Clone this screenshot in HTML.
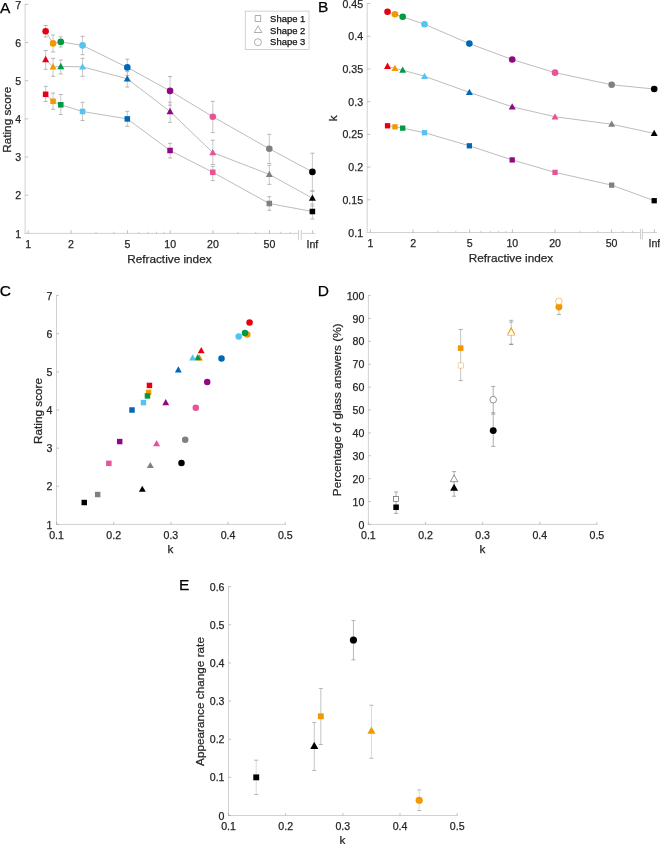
<!DOCTYPE html>
<html><head><meta charset="utf-8"><title>Figure</title>
<style>
html,body{margin:0;padding:0;background:#fff;}
body{width:660px;height:844px;overflow:hidden;font-family:"Liberation Sans",sans-serif;}
svg{display:block;font-family:"Liberation Sans",sans-serif;will-change:transform;transform:translateZ(0);}
</style></head><body>
<svg width="660" height="844" viewBox="0 0 660 844">
<rect x="0" y="0" width="660" height="844" fill="#ffffff"/>
<line x1="25.1" y1="3.9" x2="25.1" y2="233.9" stroke="#d2d2d2" stroke-width="1.0" />
<line x1="25.1" y1="233.4" x2="28.3" y2="233.4" stroke="#9a9a9a" stroke-width="0.6" />
<text x="21.2" y="237.5" font-size="10.6" text-anchor="end" fill="#262626" stroke="#262626" stroke-width="0.25">1</text>
<line x1="25.1" y1="195.23" x2="28.3" y2="195.23" stroke="#9a9a9a" stroke-width="0.6" />
<text x="21.2" y="199.33" font-size="10.6" text-anchor="end" fill="#262626" stroke="#262626" stroke-width="0.25">2</text>
<line x1="25.1" y1="157.07" x2="28.3" y2="157.07" stroke="#9a9a9a" stroke-width="0.6" />
<text x="21.2" y="161.17" font-size="10.6" text-anchor="end" fill="#262626" stroke="#262626" stroke-width="0.25">3</text>
<line x1="25.1" y1="118.9" x2="28.3" y2="118.9" stroke="#9a9a9a" stroke-width="0.6" />
<text x="21.2" y="123" font-size="10.6" text-anchor="end" fill="#262626" stroke="#262626" stroke-width="0.25">4</text>
<line x1="25.1" y1="80.73" x2="28.3" y2="80.73" stroke="#9a9a9a" stroke-width="0.6" />
<text x="21.2" y="84.83" font-size="10.6" text-anchor="end" fill="#262626" stroke="#262626" stroke-width="0.25">5</text>
<line x1="25.1" y1="42.57" x2="28.3" y2="42.57" stroke="#9a9a9a" stroke-width="0.6" />
<text x="21.2" y="46.67" font-size="10.6" text-anchor="end" fill="#262626" stroke="#262626" stroke-width="0.25">6</text>
<line x1="25.1" y1="4.4" x2="28.3" y2="4.4" stroke="#9a9a9a" stroke-width="0.6" />
<text x="21.2" y="8.5" font-size="10.6" text-anchor="end" fill="#262626" stroke="#262626" stroke-width="0.25">7</text>
<line x1="24.6" y1="233.4" x2="298.45" y2="233.4" stroke="#d2d2d2" stroke-width="1.0" />
<line x1="301.25" y1="233.4" x2="315.6" y2="233.4" stroke="#d2d2d2" stroke-width="1.0" />
<line x1="298.45" y1="230" x2="298.45" y2="240.2" stroke="#c2c2c2" stroke-width="0.8" />
<line x1="301.25" y1="230" x2="301.25" y2="240.2" stroke="#c2c2c2" stroke-width="0.8" />
<line x1="28.25" y1="230.2" x2="28.25" y2="233.4" stroke="#9a9a9a" stroke-width="0.6" />
<text x="28.25" y="247.7" font-size="10.6" text-anchor="middle" fill="#262626" stroke="#262626" stroke-width="0.25">1</text>
<line x1="71" y1="230.2" x2="71" y2="233.4" stroke="#9a9a9a" stroke-width="0.6" />
<text x="71" y="247.7" font-size="10.6" text-anchor="middle" fill="#262626" stroke="#262626" stroke-width="0.25">2</text>
<line x1="127.5" y1="230.2" x2="127.5" y2="233.4" stroke="#9a9a9a" stroke-width="0.6" />
<text x="127.5" y="247.7" font-size="10.6" text-anchor="middle" fill="#262626" stroke="#262626" stroke-width="0.25">5</text>
<line x1="170.25" y1="230.2" x2="170.25" y2="233.4" stroke="#9a9a9a" stroke-width="0.6" />
<text x="170.25" y="247.7" font-size="10.6" text-anchor="middle" fill="#262626" stroke="#262626" stroke-width="0.25">10</text>
<line x1="213" y1="230.2" x2="213" y2="233.4" stroke="#9a9a9a" stroke-width="0.6" />
<text x="213" y="247.7" font-size="10.6" text-anchor="middle" fill="#262626" stroke="#262626" stroke-width="0.25">20</text>
<line x1="269.5" y1="230.2" x2="269.5" y2="233.4" stroke="#9a9a9a" stroke-width="0.6" />
<text x="269.5" y="247.7" font-size="10.6" text-anchor="middle" fill="#262626" stroke="#262626" stroke-width="0.25">50</text>
<line x1="96" y1="231.7" x2="96" y2="233.4" stroke="#9a9a9a" stroke-width="0.5" />
<line x1="113.74" y1="231.7" x2="113.74" y2="233.4" stroke="#9a9a9a" stroke-width="0.5" />
<line x1="138.75" y1="231.7" x2="138.75" y2="233.4" stroke="#9a9a9a" stroke-width="0.5" />
<line x1="148.25" y1="231.7" x2="148.25" y2="233.4" stroke="#9a9a9a" stroke-width="0.5" />
<line x1="156.49" y1="231.7" x2="156.49" y2="233.4" stroke="#9a9a9a" stroke-width="0.5" />
<line x1="163.75" y1="231.7" x2="163.75" y2="233.4" stroke="#9a9a9a" stroke-width="0.5" />
<line x1="238" y1="231.7" x2="238" y2="233.4" stroke="#9a9a9a" stroke-width="0.5" />
<line x1="255.74" y1="231.7" x2="255.74" y2="233.4" stroke="#9a9a9a" stroke-width="0.5" />
<line x1="280.75" y1="231.7" x2="280.75" y2="233.4" stroke="#9a9a9a" stroke-width="0.5" />
<line x1="290.25" y1="231.7" x2="290.25" y2="233.4" stroke="#9a9a9a" stroke-width="0.5" />
<line x1="312.4" y1="230.2" x2="312.4" y2="233.4" stroke="#9a9a9a" stroke-width="0.6" />
<text x="312.4" y="247.7" font-size="10.6" text-anchor="middle" fill="#262626" stroke="#262626" stroke-width="0.25">Inf</text>
<text x="169.4" y="262.8" font-size="11.78" text-anchor="middle" fill="#262626" stroke="#262626" stroke-width="0.25">Refractive index</text>
<text x="10.8" y="119.8" font-size="11.78" text-anchor="middle" fill="#262626" stroke="#262626" stroke-width="0.25" transform="rotate(-90 10.8 119.8)">Rating score</text>
<text x="0" y="13.3" font-size="15.5" text-anchor="start" fill="#000" stroke="#000" stroke-width="0.25">A</text>
<line x1="45.64" y1="86.3" x2="45.64" y2="101.5" stroke="#c4c4c4" stroke-width="0.9" />
<line x1="43.64" y1="86.3" x2="47.64" y2="86.3" stroke="#8a8a8a" stroke-width="0.6" />
<line x1="43.64" y1="101.5" x2="47.64" y2="101.5" stroke="#8a8a8a" stroke-width="0.6" />
<line x1="53.05" y1="93" x2="53.05" y2="109.3" stroke="#c4c4c4" stroke-width="0.9" />
<line x1="51.05" y1="93" x2="55.05" y2="93" stroke="#8a8a8a" stroke-width="0.6" />
<line x1="51.05" y1="109.3" x2="55.05" y2="109.3" stroke="#8a8a8a" stroke-width="0.6" />
<line x1="60.77" y1="94.5" x2="60.77" y2="114.5" stroke="#c4c4c4" stroke-width="0.9" />
<line x1="58.77" y1="94.5" x2="62.77" y2="94.5" stroke="#8a8a8a" stroke-width="0.6" />
<line x1="58.77" y1="114.5" x2="62.77" y2="114.5" stroke="#8a8a8a" stroke-width="0.6" />
<line x1="82.55" y1="102.3" x2="82.55" y2="120.5" stroke="#c4c4c4" stroke-width="0.9" />
<line x1="80.55" y1="102.3" x2="84.55" y2="102.3" stroke="#8a8a8a" stroke-width="0.6" />
<line x1="80.55" y1="120.5" x2="84.55" y2="120.5" stroke="#8a8a8a" stroke-width="0.6" />
<line x1="127.3" y1="111.3" x2="127.3" y2="126.4" stroke="#c4c4c4" stroke-width="0.9" />
<line x1="125.3" y1="111.3" x2="129.3" y2="111.3" stroke="#8a8a8a" stroke-width="0.6" />
<line x1="125.3" y1="126.4" x2="129.3" y2="126.4" stroke="#8a8a8a" stroke-width="0.6" />
<line x1="170.05" y1="143.3" x2="170.05" y2="158" stroke="#c4c4c4" stroke-width="0.9" />
<line x1="168.05" y1="143.3" x2="172.05" y2="143.3" stroke="#8a8a8a" stroke-width="0.6" />
<line x1="168.05" y1="158" x2="172.05" y2="158" stroke="#8a8a8a" stroke-width="0.6" />
<line x1="212.8" y1="166.3" x2="212.8" y2="180.6" stroke="#c4c4c4" stroke-width="0.9" />
<line x1="210.8" y1="166.3" x2="214.8" y2="166.3" stroke="#8a8a8a" stroke-width="0.6" />
<line x1="210.8" y1="180.6" x2="214.8" y2="180.6" stroke="#8a8a8a" stroke-width="0.6" />
<line x1="269.3" y1="196.7" x2="269.3" y2="210.3" stroke="#c4c4c4" stroke-width="0.9" />
<line x1="267.3" y1="196.7" x2="271.3" y2="196.7" stroke="#8a8a8a" stroke-width="0.6" />
<line x1="267.3" y1="210.3" x2="271.3" y2="210.3" stroke="#8a8a8a" stroke-width="0.6" />
<line x1="312.4" y1="204" x2="312.4" y2="219" stroke="#c4c4c4" stroke-width="0.9" />
<line x1="310.4" y1="204" x2="314.4" y2="204" stroke="#8a8a8a" stroke-width="0.6" />
<line x1="310.4" y1="219" x2="314.4" y2="219" stroke="#8a8a8a" stroke-width="0.6" />
<polyline points="45.64,94.3 53.05,101.3 60.77,104.8 82.55,111.5 127.3,118.9 170.05,150.5 212.8,172.3 269.3,203.5 312.4,211.5" fill="none" stroke="#858585" stroke-width="0.55"/>
<rect x="42.86" y="91.53" width="5.54" height="5.54" fill="#e60012"/>
<rect x="50.28" y="98.53" width="5.54" height="5.54" fill="#f39800"/>
<rect x="58" y="102.03" width="5.54" height="5.54" fill="#009944"/>
<rect x="79.78" y="108.73" width="5.54" height="5.54" fill="#54c3f1"/>
<rect x="124.53" y="116.13" width="5.54" height="5.54" fill="#0068b7"/>
<rect x="167.28" y="147.73" width="5.54" height="5.54" fill="#920783"/>
<rect x="210.02" y="169.53" width="5.54" height="5.54" fill="#e85298"/>
<rect x="266.53" y="200.73" width="5.54" height="5.54" fill="#808080"/>
<rect x="309.63" y="208.73" width="5.54" height="5.54" fill="#000000"/>
<line x1="45.64" y1="50.5" x2="45.64" y2="69.3" stroke="#c4c4c4" stroke-width="0.9" />
<line x1="43.64" y1="50.5" x2="47.64" y2="50.5" stroke="#8a8a8a" stroke-width="0.6" />
<line x1="43.64" y1="69.3" x2="47.64" y2="69.3" stroke="#8a8a8a" stroke-width="0.6" />
<line x1="53.05" y1="58.3" x2="53.05" y2="76.3" stroke="#c4c4c4" stroke-width="0.9" />
<line x1="51.05" y1="58.3" x2="55.05" y2="58.3" stroke="#8a8a8a" stroke-width="0.6" />
<line x1="51.05" y1="76.3" x2="55.05" y2="76.3" stroke="#8a8a8a" stroke-width="0.6" />
<line x1="60.77" y1="60" x2="60.77" y2="74" stroke="#c4c4c4" stroke-width="0.9" />
<line x1="58.77" y1="60" x2="62.77" y2="60" stroke="#8a8a8a" stroke-width="0.6" />
<line x1="58.77" y1="74" x2="62.77" y2="74" stroke="#8a8a8a" stroke-width="0.6" />
<line x1="82.55" y1="58.3" x2="82.55" y2="76.3" stroke="#c4c4c4" stroke-width="0.9" />
<line x1="80.55" y1="58.3" x2="84.55" y2="58.3" stroke="#8a8a8a" stroke-width="0.6" />
<line x1="80.55" y1="76.3" x2="84.55" y2="76.3" stroke="#8a8a8a" stroke-width="0.6" />
<line x1="127.3" y1="71.5" x2="127.3" y2="87.1" stroke="#c4c4c4" stroke-width="0.9" />
<line x1="125.3" y1="71.5" x2="129.3" y2="71.5" stroke="#8a8a8a" stroke-width="0.6" />
<line x1="125.3" y1="87.1" x2="129.3" y2="87.1" stroke="#8a8a8a" stroke-width="0.6" />
<line x1="170.05" y1="102.2" x2="170.05" y2="122.3" stroke="#c4c4c4" stroke-width="0.9" />
<line x1="168.05" y1="102.2" x2="172.05" y2="102.2" stroke="#8a8a8a" stroke-width="0.6" />
<line x1="168.05" y1="122.3" x2="172.05" y2="122.3" stroke="#8a8a8a" stroke-width="0.6" />
<line x1="212.8" y1="140.2" x2="212.8" y2="164.5" stroke="#c4c4c4" stroke-width="0.9" />
<line x1="210.8" y1="140.2" x2="214.8" y2="140.2" stroke="#8a8a8a" stroke-width="0.6" />
<line x1="210.8" y1="164.5" x2="214.8" y2="164.5" stroke="#8a8a8a" stroke-width="0.6" />
<line x1="269.3" y1="165.3" x2="269.3" y2="184.4" stroke="#c4c4c4" stroke-width="0.9" />
<line x1="267.3" y1="165.3" x2="271.3" y2="165.3" stroke="#8a8a8a" stroke-width="0.6" />
<line x1="267.3" y1="184.4" x2="271.3" y2="184.4" stroke="#8a8a8a" stroke-width="0.6" />
<line x1="312.4" y1="191" x2="312.4" y2="206.1" stroke="#c4c4c4" stroke-width="0.9" />
<line x1="310.4" y1="191" x2="314.4" y2="191" stroke="#8a8a8a" stroke-width="0.6" />
<line x1="310.4" y1="206.1" x2="314.4" y2="206.1" stroke="#8a8a8a" stroke-width="0.6" />
<polyline points="45.64,59.5 53.05,66.8 60.77,66.5 82.55,66.8 127.3,78.8 170.05,111.5 212.8,152.6 269.3,174.4 312.4,198.2" fill="none" stroke="#858585" stroke-width="0.55"/>
<polygon points="45.64,55.87 49.13,62.14 42.14,62.14" fill="#e60012"/>
<polygon points="53.05,63.17 56.55,69.44 49.56,69.44" fill="#f39800"/>
<polygon points="60.77,62.87 64.27,69.14 57.28,69.14" fill="#009944"/>
<polygon points="82.55,63.17 86.05,69.44 79.05,69.44" fill="#54c3f1"/>
<polygon points="127.3,75.17 130.8,81.44 123.81,81.44" fill="#0068b7"/>
<polygon points="170.05,107.87 173.55,114.14 166.55,114.14" fill="#920783"/>
<polygon points="212.8,148.97 216.29,155.24 209.3,155.24" fill="#e85298"/>
<polygon points="269.3,170.77 272.8,177.04 265.81,177.04" fill="#808080"/>
<polygon points="312.4,194.57 315.9,200.84 308.9,200.84" fill="#000000"/>
<line x1="45.64" y1="25.5" x2="45.64" y2="37" stroke="#c4c4c4" stroke-width="0.9" />
<line x1="43.64" y1="25.5" x2="47.64" y2="25.5" stroke="#8a8a8a" stroke-width="0.6" />
<line x1="43.64" y1="37" x2="47.64" y2="37" stroke="#8a8a8a" stroke-width="0.6" />
<line x1="53.05" y1="35" x2="53.05" y2="52" stroke="#c4c4c4" stroke-width="0.9" />
<line x1="51.05" y1="35" x2="55.05" y2="35" stroke="#8a8a8a" stroke-width="0.6" />
<line x1="51.05" y1="52" x2="55.05" y2="52" stroke="#8a8a8a" stroke-width="0.6" />
<line x1="60.77" y1="36.8" x2="60.77" y2="47" stroke="#c4c4c4" stroke-width="0.9" />
<line x1="58.77" y1="36.8" x2="62.77" y2="36.8" stroke="#8a8a8a" stroke-width="0.6" />
<line x1="58.77" y1="47" x2="62.77" y2="47" stroke="#8a8a8a" stroke-width="0.6" />
<line x1="82.55" y1="36.3" x2="82.55" y2="54.7" stroke="#c4c4c4" stroke-width="0.9" />
<line x1="80.55" y1="36.3" x2="84.55" y2="36.3" stroke="#8a8a8a" stroke-width="0.6" />
<line x1="80.55" y1="54.7" x2="84.55" y2="54.7" stroke="#8a8a8a" stroke-width="0.6" />
<line x1="127.3" y1="59.2" x2="127.3" y2="75.5" stroke="#c4c4c4" stroke-width="0.9" />
<line x1="125.3" y1="59.2" x2="129.3" y2="59.2" stroke="#8a8a8a" stroke-width="0.6" />
<line x1="125.3" y1="75.5" x2="129.3" y2="75.5" stroke="#8a8a8a" stroke-width="0.6" />
<line x1="170.05" y1="76.5" x2="170.05" y2="105.2" stroke="#c4c4c4" stroke-width="0.9" />
<line x1="168.05" y1="76.5" x2="172.05" y2="76.5" stroke="#8a8a8a" stroke-width="0.6" />
<line x1="168.05" y1="105.2" x2="172.05" y2="105.2" stroke="#8a8a8a" stroke-width="0.6" />
<line x1="212.8" y1="101.3" x2="212.8" y2="132.6" stroke="#c4c4c4" stroke-width="0.9" />
<line x1="210.8" y1="101.3" x2="214.8" y2="101.3" stroke="#8a8a8a" stroke-width="0.6" />
<line x1="210.8" y1="132.6" x2="214.8" y2="132.6" stroke="#8a8a8a" stroke-width="0.6" />
<line x1="269.3" y1="134.3" x2="269.3" y2="163.5" stroke="#c4c4c4" stroke-width="0.9" />
<line x1="267.3" y1="134.3" x2="271.3" y2="134.3" stroke="#8a8a8a" stroke-width="0.6" />
<line x1="267.3" y1="163.5" x2="271.3" y2="163.5" stroke="#8a8a8a" stroke-width="0.6" />
<line x1="312.4" y1="153.2" x2="312.4" y2="191" stroke="#c4c4c4" stroke-width="0.9" />
<line x1="310.4" y1="153.2" x2="314.4" y2="153.2" stroke="#8a8a8a" stroke-width="0.6" />
<line x1="310.4" y1="191" x2="314.4" y2="191" stroke="#8a8a8a" stroke-width="0.6" />
<polyline points="45.64,31.3 53.05,43.4 60.77,41.9 82.55,45.4 127.3,67.4 170.05,90.9 212.8,116.7 269.3,148.8 312.4,171.9" fill="none" stroke="#858585" stroke-width="0.55"/>
<circle cx="45.64" cy="31.3" r="3.3" fill="#e60012"/>
<circle cx="53.05" cy="43.4" r="3.3" fill="#f39800"/>
<circle cx="60.77" cy="41.9" r="3.3" fill="#009944"/>
<circle cx="82.55" cy="45.4" r="3.3" fill="#54c3f1"/>
<circle cx="127.3" cy="67.4" r="3.3" fill="#0068b7"/>
<circle cx="170.05" cy="90.9" r="3.3" fill="#920783"/>
<circle cx="212.8" cy="116.7" r="3.3" fill="#e85298"/>
<circle cx="269.3" cy="148.8" r="3.3" fill="#808080"/>
<circle cx="312.4" cy="171.9" r="3.3" fill="#000000"/>
<rect x="245.2" y="11.1" width="63.8" height="38.5" fill="#fff" stroke="#b4b4b4" stroke-width="0.6"/>
<rect x="255.1" y="15.7" width="5.7" height="5.7" fill="#fff" stroke="#7a7a7a" stroke-width="0.6"/>
<polygon points="258.1,25.8 261.9,32.5 254.3,32.5" fill="#fff" stroke="#7a7a7a" stroke-width="0.6"/>
<circle cx="257.9" cy="42.2" r="3.5" fill="#fff" stroke="#7a7a7a" stroke-width="0.6"/>
<text x="270.1" y="21.6" font-size="9.45" text-anchor="start" fill="#111" stroke="#111" stroke-width="0.25">Shape 1</text>
<text x="270.1" y="33.6" font-size="9.45" text-anchor="start" fill="#111" stroke="#111" stroke-width="0.25">Shape 2</text>
<text x="270.1" y="45.3" font-size="9.45" text-anchor="start" fill="#111" stroke="#111" stroke-width="0.25">Shape 3</text>
<line x1="367.2" y1="3" x2="367.2" y2="233" stroke="#d2d2d2" stroke-width="1.0" />
<line x1="367.2" y1="232.5" x2="370.4" y2="232.5" stroke="#9a9a9a" stroke-width="0.6" />
<text x="363.1" y="236.6" font-size="10.6" text-anchor="end" fill="#262626" stroke="#262626" stroke-width="0.25">0.1</text>
<line x1="367.2" y1="199.79" x2="370.4" y2="199.79" stroke="#9a9a9a" stroke-width="0.6" />
<text x="363.1" y="203.89" font-size="10.6" text-anchor="end" fill="#262626" stroke="#262626" stroke-width="0.25">0.15</text>
<line x1="367.2" y1="167.07" x2="370.4" y2="167.07" stroke="#9a9a9a" stroke-width="0.6" />
<text x="363.1" y="171.17" font-size="10.6" text-anchor="end" fill="#262626" stroke="#262626" stroke-width="0.25">0.2</text>
<line x1="367.2" y1="134.36" x2="370.4" y2="134.36" stroke="#9a9a9a" stroke-width="0.6" />
<text x="363.1" y="138.46" font-size="10.6" text-anchor="end" fill="#262626" stroke="#262626" stroke-width="0.25">0.25</text>
<line x1="367.2" y1="101.64" x2="370.4" y2="101.64" stroke="#9a9a9a" stroke-width="0.6" />
<text x="363.1" y="105.74" font-size="10.6" text-anchor="end" fill="#262626" stroke="#262626" stroke-width="0.25">0.3</text>
<line x1="367.2" y1="68.93" x2="370.4" y2="68.93" stroke="#9a9a9a" stroke-width="0.6" />
<text x="363.1" y="73.03" font-size="10.6" text-anchor="end" fill="#262626" stroke="#262626" stroke-width="0.25">0.35</text>
<line x1="367.2" y1="36.21" x2="370.4" y2="36.21" stroke="#9a9a9a" stroke-width="0.6" />
<text x="363.1" y="40.31" font-size="10.6" text-anchor="end" fill="#262626" stroke="#262626" stroke-width="0.25">0.4</text>
<line x1="367.2" y1="3.5" x2="370.4" y2="3.5" stroke="#9a9a9a" stroke-width="0.6" />
<text x="363.1" y="7.6" font-size="10.6" text-anchor="end" fill="#262626" stroke="#262626" stroke-width="0.25">0.45</text>
<line x1="366.7" y1="232.5" x2="640.55" y2="232.5" stroke="#d2d2d2" stroke-width="1.0" />
<line x1="642.45" y1="232.5" x2="657.1" y2="232.5" stroke="#d2d2d2" stroke-width="1.0" />
<line x1="640.55" y1="229.1" x2="640.55" y2="239.3" stroke="#c2c2c2" stroke-width="0.8" />
<line x1="642.45" y1="229.1" x2="642.45" y2="239.3" stroke="#c2c2c2" stroke-width="0.8" />
<line x1="370.35" y1="229.3" x2="370.35" y2="232.5" stroke="#9a9a9a" stroke-width="0.6" />
<text x="370.35" y="246.8" font-size="10.6" text-anchor="middle" fill="#262626" stroke="#262626" stroke-width="0.25">1</text>
<line x1="413.1" y1="229.3" x2="413.1" y2="232.5" stroke="#9a9a9a" stroke-width="0.6" />
<text x="413.1" y="246.8" font-size="10.6" text-anchor="middle" fill="#262626" stroke="#262626" stroke-width="0.25">2</text>
<line x1="469.6" y1="229.3" x2="469.6" y2="232.5" stroke="#9a9a9a" stroke-width="0.6" />
<text x="469.6" y="246.8" font-size="10.6" text-anchor="middle" fill="#262626" stroke="#262626" stroke-width="0.25">5</text>
<line x1="512.35" y1="229.3" x2="512.35" y2="232.5" stroke="#9a9a9a" stroke-width="0.6" />
<text x="512.35" y="246.8" font-size="10.6" text-anchor="middle" fill="#262626" stroke="#262626" stroke-width="0.25">10</text>
<line x1="555.1" y1="229.3" x2="555.1" y2="232.5" stroke="#9a9a9a" stroke-width="0.6" />
<text x="555.1" y="246.8" font-size="10.6" text-anchor="middle" fill="#262626" stroke="#262626" stroke-width="0.25">20</text>
<line x1="611.6" y1="229.3" x2="611.6" y2="232.5" stroke="#9a9a9a" stroke-width="0.6" />
<text x="611.6" y="246.8" font-size="10.6" text-anchor="middle" fill="#262626" stroke="#262626" stroke-width="0.25">50</text>
<line x1="438.1" y1="230.8" x2="438.1" y2="232.5" stroke="#9a9a9a" stroke-width="0.5" />
<line x1="455.84" y1="230.8" x2="455.84" y2="232.5" stroke="#9a9a9a" stroke-width="0.5" />
<line x1="480.85" y1="230.8" x2="480.85" y2="232.5" stroke="#9a9a9a" stroke-width="0.5" />
<line x1="490.35" y1="230.8" x2="490.35" y2="232.5" stroke="#9a9a9a" stroke-width="0.5" />
<line x1="498.59" y1="230.8" x2="498.59" y2="232.5" stroke="#9a9a9a" stroke-width="0.5" />
<line x1="505.85" y1="230.8" x2="505.85" y2="232.5" stroke="#9a9a9a" stroke-width="0.5" />
<line x1="580.1" y1="230.8" x2="580.1" y2="232.5" stroke="#9a9a9a" stroke-width="0.5" />
<line x1="597.84" y1="230.8" x2="597.84" y2="232.5" stroke="#9a9a9a" stroke-width="0.5" />
<line x1="622.85" y1="230.8" x2="622.85" y2="232.5" stroke="#9a9a9a" stroke-width="0.5" />
<line x1="632.35" y1="230.8" x2="632.35" y2="232.5" stroke="#9a9a9a" stroke-width="0.5" />
<line x1="654.4" y1="229.3" x2="654.4" y2="232.5" stroke="#9a9a9a" stroke-width="0.6" />
<text x="654.4" y="246.8" font-size="10.6" text-anchor="middle" fill="#262626" stroke="#262626" stroke-width="0.25">Inf</text>
<text x="511" y="261.9" font-size="11.78" text-anchor="middle" fill="#262626" stroke="#262626" stroke-width="0.25">Refractive index</text>
<text x="337.5" y="118.2" font-size="11.78" text-anchor="middle" fill="#262626" stroke="#262626" stroke-width="0.25" transform="rotate(-90 337.5 118.2)">k</text>
<text x="318" y="11.7" font-size="15.5" text-anchor="start" fill="#000" stroke="#000" stroke-width="0.25">B</text>
<polyline points="387.52,125.79 394.96,126.83 402.69,128.14 424.52,132.72 469.36,145.81 512.2,159.94 555.04,172.37 611.66,185.13 654.2,200.7" fill="none" stroke="#858585" stroke-width="0.55"/>
<rect x="384.88" y="123.14" width="5.29" height="5.29" fill="#e60012"/>
<rect x="392.31" y="124.19" width="5.29" height="5.29" fill="#f39800"/>
<rect x="400.05" y="125.5" width="5.29" height="5.29" fill="#009944"/>
<rect x="421.87" y="130.08" width="5.29" height="5.29" fill="#54c3f1"/>
<rect x="466.72" y="143.16" width="5.29" height="5.29" fill="#0068b7"/>
<rect x="509.55" y="157.29" width="5.29" height="5.29" fill="#920783"/>
<rect x="552.39" y="169.73" width="5.29" height="5.29" fill="#e85298"/>
<rect x="609.02" y="182.48" width="5.29" height="5.29" fill="#808080"/>
<rect x="651.55" y="198.06" width="5.29" height="5.29" fill="#000000"/>
<polyline points="387.52,66.25 394.96,68.41 402.69,70.17 424.52,76.26 469.36,92.42 512.2,106.81 555.04,116.76 611.66,124.22 654.2,133.38" fill="none" stroke="#858585" stroke-width="0.55"/>
<polygon points="387.52,62.62 391.02,68.89 384.03,68.89" fill="#e60012"/>
<polygon points="394.96,64.78 398.46,71.05 391.46,71.05" fill="#f39800"/>
<polygon points="402.69,66.54 406.19,72.81 399.19,72.81" fill="#009944"/>
<polygon points="424.52,72.63 428.01,78.9 421.02,78.9" fill="#54c3f1"/>
<polygon points="469.36,88.79 472.86,95.06 465.87,95.06" fill="#0068b7"/>
<polygon points="512.2,103.18 515.7,109.45 508.7,109.45" fill="#920783"/>
<polygon points="555.04,113.13 558.53,119.4 551.54,119.4" fill="#e85298"/>
<polygon points="611.66,120.59 615.16,126.86 608.17,126.86" fill="#808080"/>
<polygon points="654.2,129.75 657.7,136.02 650.7,136.02" fill="#000000"/>
<polyline points="387.52,11.68 394.96,14.3 402.69,16.78 424.52,24.24 469.36,43.61 512.2,59.57 555.04,72.66 611.66,84.76 654.2,89.02" fill="none" stroke="#858585" stroke-width="0.55"/>
<circle cx="387.52" cy="11.68" r="3.3" fill="#e60012"/>
<circle cx="394.96" cy="14.3" r="3.3" fill="#f39800"/>
<circle cx="402.69" cy="16.78" r="3.3" fill="#009944"/>
<circle cx="424.52" cy="24.24" r="3.3" fill="#54c3f1"/>
<circle cx="469.36" cy="43.61" r="3.3" fill="#0068b7"/>
<circle cx="512.2" cy="59.57" r="3.3" fill="#920783"/>
<circle cx="555.04" cy="72.66" r="3.3" fill="#e85298"/>
<circle cx="611.66" cy="84.76" r="3.3" fill="#808080"/>
<circle cx="654.2" cy="89.02" r="3.3" fill="#000000"/>
<line x1="56.5" y1="295.1" x2="56.5" y2="524.9" stroke="#d2d2d2" stroke-width="1.0" />
<line x1="56" y1="524.4" x2="285.8" y2="524.4" stroke="#d2d2d2" stroke-width="1.0" />
<line x1="56.5" y1="521.9" x2="56.5" y2="524.4" stroke="#9a9a9a" stroke-width="0.6" />
<text x="56.5" y="538.8" font-size="10.6" text-anchor="middle" fill="#262626" stroke="#262626" stroke-width="0.25">0.1</text>
<line x1="113.7" y1="521.9" x2="113.7" y2="524.4" stroke="#9a9a9a" stroke-width="0.6" />
<text x="113.7" y="538.8" font-size="10.6" text-anchor="middle" fill="#262626" stroke="#262626" stroke-width="0.25">0.2</text>
<line x1="170.9" y1="521.9" x2="170.9" y2="524.4" stroke="#9a9a9a" stroke-width="0.6" />
<text x="170.9" y="538.8" font-size="10.6" text-anchor="middle" fill="#262626" stroke="#262626" stroke-width="0.25">0.3</text>
<line x1="228.1" y1="521.9" x2="228.1" y2="524.4" stroke="#9a9a9a" stroke-width="0.6" />
<text x="228.1" y="538.8" font-size="10.6" text-anchor="middle" fill="#262626" stroke="#262626" stroke-width="0.25">0.4</text>
<line x1="285.3" y1="521.9" x2="285.3" y2="524.4" stroke="#9a9a9a" stroke-width="0.6" />
<text x="285.3" y="538.8" font-size="10.6" text-anchor="middle" fill="#262626" stroke="#262626" stroke-width="0.25">0.5</text>
<line x1="56.5" y1="524.4" x2="59" y2="524.4" stroke="#9a9a9a" stroke-width="0.6" />
<text x="52.5" y="528.5" font-size="10.6" text-anchor="end" fill="#262626" stroke="#262626" stroke-width="0.25">1</text>
<line x1="56.5" y1="486.27" x2="59" y2="486.27" stroke="#9a9a9a" stroke-width="0.6" />
<text x="52.5" y="490.37" font-size="10.6" text-anchor="end" fill="#262626" stroke="#262626" stroke-width="0.25">2</text>
<line x1="56.5" y1="448.13" x2="59" y2="448.13" stroke="#9a9a9a" stroke-width="0.6" />
<text x="52.5" y="452.23" font-size="10.6" text-anchor="end" fill="#262626" stroke="#262626" stroke-width="0.25">3</text>
<line x1="56.5" y1="410" x2="59" y2="410" stroke="#9a9a9a" stroke-width="0.6" />
<text x="52.5" y="414.1" font-size="10.6" text-anchor="end" fill="#262626" stroke="#262626" stroke-width="0.25">4</text>
<line x1="56.5" y1="371.87" x2="59" y2="371.87" stroke="#9a9a9a" stroke-width="0.6" />
<text x="52.5" y="375.97" font-size="10.6" text-anchor="end" fill="#262626" stroke="#262626" stroke-width="0.25">5</text>
<line x1="56.5" y1="333.73" x2="59" y2="333.73" stroke="#9a9a9a" stroke-width="0.6" />
<text x="52.5" y="337.83" font-size="10.6" text-anchor="end" fill="#262626" stroke="#262626" stroke-width="0.25">6</text>
<line x1="56.5" y1="295.6" x2="59" y2="295.6" stroke="#9a9a9a" stroke-width="0.6" />
<text x="52.5" y="299.7" font-size="10.6" text-anchor="end" fill="#262626" stroke="#262626" stroke-width="0.25">7</text>
<text x="170.5" y="553" font-size="11.78" text-anchor="middle" fill="#262626" stroke="#262626" stroke-width="0.25">k</text>
<text x="42" y="411" font-size="11.78" text-anchor="middle" fill="#262626" stroke="#262626" stroke-width="0.25" transform="rotate(-90 42 411)">Rating score</text>
<text x="-0.2" y="295.6" font-size="15.5" text-anchor="start" fill="#000" stroke="#000" stroke-width="0.25">C</text>
<rect x="146.72" y="382.69" width="5.46" height="5.46" fill="#e60012"/>
<rect x="145.86" y="389.69" width="5.46" height="5.46" fill="#f39800"/>
<rect x="144.72" y="393.18" width="5.46" height="5.46" fill="#009944"/>
<rect x="140.71" y="399.88" width="5.46" height="5.46" fill="#54c3f1"/>
<rect x="129.27" y="407.27" width="5.46" height="5.46" fill="#0068b7"/>
<rect x="116.98" y="438.84" width="5.46" height="5.46" fill="#920783"/>
<rect x="106.11" y="460.62" width="5.46" height="5.46" fill="#e85298"/>
<rect x="94.95" y="491.8" width="5.46" height="5.46" fill="#808080"/>
<rect x="81.51" y="499.79" width="5.46" height="5.46" fill="#000000"/>
<polygon points="201.22,347.08 204.66,353.25 197.77,353.25" fill="#e60012"/>
<polygon points="199.5,354.37 202.94,360.55 196.05,360.55" fill="#f39800"/>
<polygon points="197.78,354.07 201.23,360.25 194.34,360.25" fill="#009944"/>
<polygon points="192.64,354.37 196.08,360.55 189.19,360.55" fill="#54c3f1"/>
<polygon points="178.34,366.36 181.78,372.54 174.89,372.54" fill="#0068b7"/>
<polygon points="165.75,399.03 169.2,405.21 162.31,405.21" fill="#920783"/>
<polygon points="156.6,440.1 160.05,446.27 153.16,446.27" fill="#e85298"/>
<polygon points="150.31,461.88 153.75,468.05 146.86,468.05" fill="#808080"/>
<polygon points="142.3,485.66 145.75,491.83 138.86,491.83" fill="#000000"/>
<circle cx="249.55" cy="322.48" r="3.25" fill="#e60012"/>
<circle cx="247.26" cy="334.57" r="3.25" fill="#f39800"/>
<circle cx="244.97" cy="333.07" r="3.25" fill="#009944"/>
<circle cx="238.68" cy="336.56" r="3.25" fill="#54c3f1"/>
<circle cx="221.52" cy="358.54" r="3.25" fill="#0068b7"/>
<circle cx="207.22" cy="382.02" r="3.25" fill="#920783"/>
<circle cx="195.78" cy="407.8" r="3.25" fill="#e85298"/>
<circle cx="185.2" cy="439.87" r="3.25" fill="#808080"/>
<circle cx="181.48" cy="462.95" r="3.25" fill="#000000"/>
<line x1="368.4" y1="295.1" x2="368.4" y2="524.9" stroke="#d2d2d2" stroke-width="1.0" />
<line x1="367.9" y1="524.4" x2="597.4" y2="524.4" stroke="#d2d2d2" stroke-width="1.0" />
<line x1="368.4" y1="521.9" x2="368.4" y2="524.4" stroke="#9a9a9a" stroke-width="0.6" />
<text x="368.4" y="538.8" font-size="10.6" text-anchor="middle" fill="#262626" stroke="#262626" stroke-width="0.25">0.1</text>
<line x1="425.52" y1="521.9" x2="425.52" y2="524.4" stroke="#9a9a9a" stroke-width="0.6" />
<text x="425.52" y="538.8" font-size="10.6" text-anchor="middle" fill="#262626" stroke="#262626" stroke-width="0.25">0.2</text>
<line x1="482.65" y1="521.9" x2="482.65" y2="524.4" stroke="#9a9a9a" stroke-width="0.6" />
<text x="482.65" y="538.8" font-size="10.6" text-anchor="middle" fill="#262626" stroke="#262626" stroke-width="0.25">0.3</text>
<line x1="539.77" y1="521.9" x2="539.77" y2="524.4" stroke="#9a9a9a" stroke-width="0.6" />
<text x="539.77" y="538.8" font-size="10.6" text-anchor="middle" fill="#262626" stroke="#262626" stroke-width="0.25">0.4</text>
<line x1="596.9" y1="521.9" x2="596.9" y2="524.4" stroke="#9a9a9a" stroke-width="0.6" />
<text x="596.9" y="538.8" font-size="10.6" text-anchor="middle" fill="#262626" stroke="#262626" stroke-width="0.25">0.5</text>
<line x1="368.4" y1="524.4" x2="370.9" y2="524.4" stroke="#9a9a9a" stroke-width="0.6" />
<text x="364.4" y="528.5" font-size="10.6" text-anchor="end" fill="#262626" stroke="#262626" stroke-width="0.25">0</text>
<line x1="368.4" y1="501.52" x2="370.9" y2="501.52" stroke="#9a9a9a" stroke-width="0.6" />
<text x="364.4" y="505.62" font-size="10.6" text-anchor="end" fill="#262626" stroke="#262626" stroke-width="0.25">10</text>
<line x1="368.4" y1="478.64" x2="370.9" y2="478.64" stroke="#9a9a9a" stroke-width="0.6" />
<text x="364.4" y="482.74" font-size="10.6" text-anchor="end" fill="#262626" stroke="#262626" stroke-width="0.25">20</text>
<line x1="368.4" y1="455.76" x2="370.9" y2="455.76" stroke="#9a9a9a" stroke-width="0.6" />
<text x="364.4" y="459.86" font-size="10.6" text-anchor="end" fill="#262626" stroke="#262626" stroke-width="0.25">30</text>
<line x1="368.4" y1="432.88" x2="370.9" y2="432.88" stroke="#9a9a9a" stroke-width="0.6" />
<text x="364.4" y="436.98" font-size="10.6" text-anchor="end" fill="#262626" stroke="#262626" stroke-width="0.25">40</text>
<line x1="368.4" y1="410" x2="370.9" y2="410" stroke="#9a9a9a" stroke-width="0.6" />
<text x="364.4" y="414.1" font-size="10.6" text-anchor="end" fill="#262626" stroke="#262626" stroke-width="0.25">50</text>
<line x1="368.4" y1="387.12" x2="370.9" y2="387.12" stroke="#9a9a9a" stroke-width="0.6" />
<text x="364.4" y="391.22" font-size="10.6" text-anchor="end" fill="#262626" stroke="#262626" stroke-width="0.25">60</text>
<line x1="368.4" y1="364.24" x2="370.9" y2="364.24" stroke="#9a9a9a" stroke-width="0.6" />
<text x="364.4" y="368.34" font-size="10.6" text-anchor="end" fill="#262626" stroke="#262626" stroke-width="0.25">70</text>
<line x1="368.4" y1="341.36" x2="370.9" y2="341.36" stroke="#9a9a9a" stroke-width="0.6" />
<text x="364.4" y="345.46" font-size="10.6" text-anchor="end" fill="#262626" stroke="#262626" stroke-width="0.25">80</text>
<line x1="368.4" y1="318.48" x2="370.9" y2="318.48" stroke="#9a9a9a" stroke-width="0.6" />
<text x="364.4" y="322.58" font-size="10.6" text-anchor="end" fill="#262626" stroke="#262626" stroke-width="0.25">90</text>
<line x1="368.4" y1="295.6" x2="370.9" y2="295.6" stroke="#9a9a9a" stroke-width="0.6" />
<text x="364.4" y="299.7" font-size="10.6" text-anchor="end" fill="#262626" stroke="#262626" stroke-width="0.25">100</text>
<text x="482.5" y="553" font-size="11.78" text-anchor="middle" fill="#262626" stroke="#262626" stroke-width="0.25">k</text>
<text x="341" y="409.8" font-size="11.78" text-anchor="middle" fill="#262626" stroke="#262626" stroke-width="0.25" transform="rotate(-90 341 409.8)">Percentage of glass answers (%)</text>
<text x="317.8" y="295.6" font-size="15.5" text-anchor="start" fill="#000" stroke="#000" stroke-width="0.25">D</text>
<line x1="396.11" y1="491.91" x2="396.11" y2="513.42" stroke="#9a9a9a" stroke-width="0.8" />
<line x1="394.01" y1="491.91" x2="398.21" y2="491.91" stroke="#7c7c7c" stroke-width="0.6" />
<line x1="394.01" y1="513.42" x2="398.21" y2="513.42" stroke="#7c7c7c" stroke-width="0.6" />
<rect x="393.33" y="504.47" width="5.54" height="5.54" fill="#000000"/>
<rect x="393.54" y="496.56" width="5.12" height="5.12" fill="#fff" stroke="#3c3c3c" stroke-width="0.55"/>
<line x1="454.09" y1="471.55" x2="454.09" y2="496.26" stroke="#9a9a9a" stroke-width="0.8" />
<line x1="451.99" y1="471.55" x2="456.19" y2="471.55" stroke="#7c7c7c" stroke-width="0.6" />
<line x1="451.99" y1="496.26" x2="456.19" y2="496.26" stroke="#7c7c7c" stroke-width="0.6" />
<polygon points="454.09,483.67 458.06,490.79 450.11,490.79" fill="#000000"/>
<polygon points="454.09,475.02 457.8,481.67 450.38,481.67" fill="#fff" stroke="#3c3c3c" stroke-width="0.55"/>
<line x1="493.22" y1="386.43" x2="493.22" y2="446.38" stroke="#9a9a9a" stroke-width="0.8" />
<line x1="491.12" y1="386.43" x2="495.32" y2="386.43" stroke="#7c7c7c" stroke-width="0.6" />
<line x1="491.12" y1="412.75" x2="495.32" y2="412.75" stroke="#7c7c7c" stroke-width="0.6" />
<line x1="491.12" y1="414.12" x2="495.32" y2="414.12" stroke="#7c7c7c" stroke-width="0.6" />
<line x1="491.12" y1="446.38" x2="495.32" y2="446.38" stroke="#7c7c7c" stroke-width="0.6" />
<circle cx="493.22" cy="430.59" r="3.45" fill="#000000"/>
<circle cx="493.22" cy="399.7" r="3.3" fill="#fff" stroke="#3c3c3c" stroke-width="0.55"/>
<line x1="460.66" y1="329.46" x2="460.66" y2="380.6" stroke="#b4b4b4" stroke-width="0.8" />
<line x1="458.56" y1="329.46" x2="462.76" y2="329.46" stroke="#7c7c7c" stroke-width="0.6" />
<line x1="458.56" y1="350.51" x2="462.76" y2="350.51" stroke="#7c7c7c" stroke-width="0.6" />
<line x1="458.56" y1="380.6" x2="462.76" y2="380.6" stroke="#7c7c7c" stroke-width="0.6" />
<rect x="457.88" y="345.34" width="5.54" height="5.54" fill="#f39800"/>
<rect x="458.09" y="362.94" width="5.12" height="5.12" fill="#fff" stroke="#f39800" stroke-width="0.4"/>
<line x1="511.21" y1="320.31" x2="511.21" y2="344.56" stroke="#b4b4b4" stroke-width="0.8" />
<line x1="509.11" y1="320.31" x2="513.31" y2="320.31" stroke="#7c7c7c" stroke-width="0.6" />
<line x1="509.11" y1="322.14" x2="513.31" y2="322.14" stroke="#7c7c7c" stroke-width="0.6" />
<line x1="509.11" y1="344.11" x2="513.31" y2="344.11" stroke="#7c7c7c" stroke-width="0.6" />
<line x1="509.11" y1="344.56" x2="513.31" y2="344.56" stroke="#7c7c7c" stroke-width="0.6" />
<polygon points="511.21,327.05 515.19,334.18 507.24,334.18" fill="#f39800"/>
<polygon points="511.21,328.7 514.92,335.35 507.5,335.35" fill="#fff" stroke="#f39800" stroke-width="0.55"/>
<line x1="558.91" y1="301.32" x2="558.91" y2="314.59" stroke="#b4b4b4" stroke-width="0.8" />
<line x1="556.81" y1="314.59" x2="561.01" y2="314.59" stroke="#7c7c7c" stroke-width="0.6" />
<circle cx="558.91" cy="307.04" r="3.45" fill="#f39800"/>
<circle cx="558.91" cy="301.32" r="3.3" fill="#fff" stroke="#f39800" stroke-width="0.55"/>
<line x1="228.5" y1="586.1" x2="228.5" y2="816" stroke="#d2d2d2" stroke-width="1.0" />
<line x1="228" y1="815.5" x2="457.7" y2="815.5" stroke="#d2d2d2" stroke-width="1.0" />
<line x1="228.5" y1="813" x2="228.5" y2="815.5" stroke="#9a9a9a" stroke-width="0.6" />
<text x="228.5" y="829.9" font-size="10.6" text-anchor="middle" fill="#262626" stroke="#262626" stroke-width="0.25">0.1</text>
<line x1="285.68" y1="813" x2="285.68" y2="815.5" stroke="#9a9a9a" stroke-width="0.6" />
<text x="285.68" y="829.9" font-size="10.6" text-anchor="middle" fill="#262626" stroke="#262626" stroke-width="0.25">0.2</text>
<line x1="342.85" y1="813" x2="342.85" y2="815.5" stroke="#9a9a9a" stroke-width="0.6" />
<text x="342.85" y="829.9" font-size="10.6" text-anchor="middle" fill="#262626" stroke="#262626" stroke-width="0.25">0.3</text>
<line x1="400.03" y1="813" x2="400.03" y2="815.5" stroke="#9a9a9a" stroke-width="0.6" />
<text x="400.03" y="829.9" font-size="10.6" text-anchor="middle" fill="#262626" stroke="#262626" stroke-width="0.25">0.4</text>
<line x1="457.2" y1="813" x2="457.2" y2="815.5" stroke="#9a9a9a" stroke-width="0.6" />
<text x="457.2" y="829.9" font-size="10.6" text-anchor="middle" fill="#262626" stroke="#262626" stroke-width="0.25">0.5</text>
<line x1="228.5" y1="815.5" x2="231" y2="815.5" stroke="#9a9a9a" stroke-width="0.6" />
<text x="224.5" y="819.6" font-size="10.6" text-anchor="end" fill="#262626" stroke="#262626" stroke-width="0.25">0</text>
<line x1="228.5" y1="777.35" x2="231" y2="777.35" stroke="#9a9a9a" stroke-width="0.6" />
<text x="224.5" y="781.45" font-size="10.6" text-anchor="end" fill="#262626" stroke="#262626" stroke-width="0.25">0.1</text>
<line x1="228.5" y1="739.2" x2="231" y2="739.2" stroke="#9a9a9a" stroke-width="0.6" />
<text x="224.5" y="743.3" font-size="10.6" text-anchor="end" fill="#262626" stroke="#262626" stroke-width="0.25">0.2</text>
<line x1="228.5" y1="701.05" x2="231" y2="701.05" stroke="#9a9a9a" stroke-width="0.6" />
<text x="224.5" y="705.15" font-size="10.6" text-anchor="end" fill="#262626" stroke="#262626" stroke-width="0.25">0.3</text>
<line x1="228.5" y1="662.9" x2="231" y2="662.9" stroke="#9a9a9a" stroke-width="0.6" />
<text x="224.5" y="667" font-size="10.6" text-anchor="end" fill="#262626" stroke="#262626" stroke-width="0.25">0.4</text>
<line x1="228.5" y1="624.75" x2="231" y2="624.75" stroke="#9a9a9a" stroke-width="0.6" />
<text x="224.5" y="628.85" font-size="10.6" text-anchor="end" fill="#262626" stroke="#262626" stroke-width="0.25">0.5</text>
<line x1="228.5" y1="586.6" x2="231" y2="586.6" stroke="#9a9a9a" stroke-width="0.6" />
<text x="224.5" y="590.7" font-size="10.6" text-anchor="end" fill="#262626" stroke="#262626" stroke-width="0.25">0.6</text>
<text x="342.5" y="843.5" font-size="11.78" text-anchor="middle" fill="#262626" stroke="#262626" stroke-width="0.25">k</text>
<text x="204.3" y="701.5" font-size="11.78" text-anchor="middle" fill="#262626" stroke="#262626" stroke-width="0.25" transform="rotate(-90 204.3 701.5)">Appearance change rate</text>
<text x="178.9" y="590.1" font-size="15.5" text-anchor="start" fill="#000" stroke="#000" stroke-width="0.25">E</text>
<line x1="256.23" y1="760.18" x2="256.23" y2="794.52" stroke="#d2d2d2" stroke-width="0.8" />
<line x1="254.23" y1="760.18" x2="258.23" y2="760.18" stroke="#8a8a8a" stroke-width="0.6" />
<line x1="254.23" y1="794.52" x2="258.23" y2="794.52" stroke="#8a8a8a" stroke-width="0.6" />
<rect x="253.29" y="774.41" width="5.88" height="5.88" fill="#000000"/>
<line x1="314.26" y1="722.41" x2="314.26" y2="770.48" stroke="#b8b8b8" stroke-width="0.8" />
<line x1="312.26" y1="722.41" x2="316.26" y2="722.41" stroke="#8a8a8a" stroke-width="0.6" />
<line x1="312.26" y1="770.48" x2="316.26" y2="770.48" stroke="#8a8a8a" stroke-width="0.6" />
<polygon points="314.26,741.7 318.29,748.92 310.23,748.92" fill="#000000"/>
<line x1="353.43" y1="620.55" x2="353.43" y2="659.85" stroke="#a4a4a4" stroke-width="0.8" />
<line x1="351.43" y1="620.55" x2="355.43" y2="620.55" stroke="#8a8a8a" stroke-width="0.6" />
<line x1="351.43" y1="659.85" x2="355.43" y2="659.85" stroke="#8a8a8a" stroke-width="0.6" />
<circle cx="353.43" cy="640.01" r="3.6" fill="#000000"/>
<line x1="320.84" y1="688.46" x2="320.84" y2="744.54" stroke="#b4b4b4" stroke-width="0.8" />
<line x1="318.84" y1="688.46" x2="322.84" y2="688.46" stroke="#8a8a8a" stroke-width="0.6" />
<line x1="318.84" y1="744.54" x2="322.84" y2="744.54" stroke="#8a8a8a" stroke-width="0.6" />
<rect x="317.9" y="713.37" width="5.88" height="5.88" fill="#f39800"/>
<line x1="371.44" y1="705.25" x2="371.44" y2="758.27" stroke="#d2d2d2" stroke-width="0.8" />
<line x1="369.44" y1="705.25" x2="373.44" y2="705.25" stroke="#8a8a8a" stroke-width="0.6" />
<line x1="369.44" y1="758.27" x2="373.44" y2="758.27" stroke="#8a8a8a" stroke-width="0.6" />
<polygon points="371.44,726.44 375.47,733.66 367.41,733.66" fill="#f39800"/>
<line x1="419.18" y1="789.94" x2="419.18" y2="810.54" stroke="#d2d2d2" stroke-width="0.8" />
<line x1="417.18" y1="789.94" x2="421.18" y2="789.94" stroke="#8a8a8a" stroke-width="0.6" />
<line x1="417.18" y1="810.54" x2="421.18" y2="810.54" stroke="#8a8a8a" stroke-width="0.6" />
<circle cx="419.18" cy="800.24" r="3.6" fill="#f39800"/>
</svg>
</body></html>
